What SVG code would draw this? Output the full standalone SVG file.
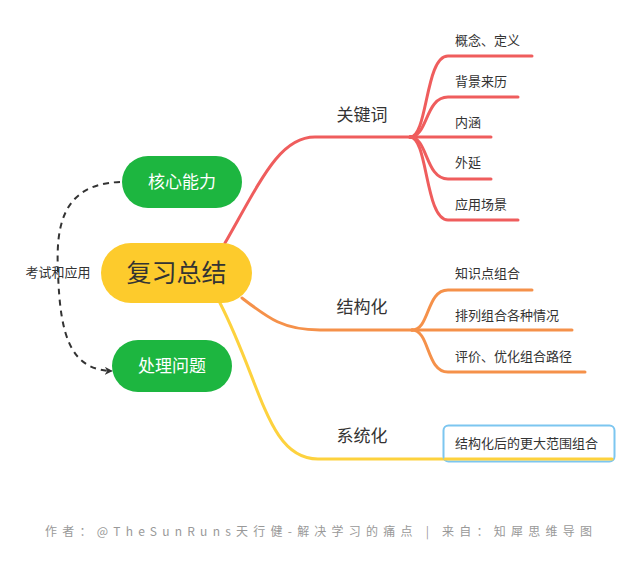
<svg xmlns="http://www.w3.org/2000/svg" width="640" height="561" viewBox="0 0 640 561">
<defs>
<style>
.t{font-family:"Noto Sans CJK SC","Noto Sans",sans-serif;fill:#333}
.sub{font-size:13px}
.main{font-size:17px}
.br{fill:none;stroke-width:3;stroke-linecap:round}
.red{stroke:#EF5D5D}
.org{stroke:#F5914A}
.yel{stroke:#FDD23E}
.green{fill:#1DB640}
</style>
<marker id="arr" viewBox="0 0 10 10" refX="9" refY="5" markerWidth="8" markerHeight="8" orient="auto" markerUnits="userSpaceOnUse">
<path d="M0,0 L10,5 L0,10 L3,5 Z" fill="#333"/>
</marker>
</defs>
<rect width="640" height="561" fill="#fff"/>
<g id="connectors">
<path class="br red" d="M225,243 C262,178 280,137 315,137 L410,137"/>
<path class="br red" d="M410,137 C428,137 425,56 448,56 L532,56"/>
<path class="br red" d="M410,137 C428,137 425,97 448,97 L518,97"/>
<path class="br red" d="M410,137 L491,137"/>
<path class="br red" d="M410,137 C428,137 425,179 448,179 L491,179"/>
<path class="br red" d="M410,137 C428,137 425,220 448,220 L518,220"/>
<path class="br org" d="M242,298 C268,318 283,330 320,330 L412,330"/>
<path class="br org" d="M412,330 C430,330 426,290 448,290 L532,290"/>
<path class="br org" d="M412,330 L572,330"/>
<path class="br org" d="M412,330 C430,330 426,372 448,372 L585,372"/>
<path class="br yel" d="M220,303 C262,385 268,459 318,459 L612,459"/>
<path d="M120,182 C60,184 56,230 58,272 C60,335 70,370 112,371" fill="none" stroke="#333" stroke-width="2" stroke-dasharray="6,5" marker-end="url(#arr)"/>
<text class="t" x="58" y="277" font-size="13" text-anchor="middle">考试和应用</text>
</g>
<g id="center">
<rect x="101" y="243" width="151" height="60" rx="30" fill="#FDCB2C"/>
<text class="t" x="176.5" y="282" font-size="25" text-anchor="middle" fill="#222">复习总结</text>
</g>
<g id="hexin">
<rect x="122" y="156" width="120" height="52" rx="26" class="green"/>
<text x="182" y="188" font-size="17" text-anchor="middle" fill="#fff" font-family="Noto Sans CJK SC,sans-serif">核心能力</text>
</g>
<g id="chuli">
<rect x="112" y="340" width="120" height="52" rx="26" class="green"/>
<text x="172" y="372" font-size="17" text-anchor="middle" fill="#fff" font-family="Noto Sans CJK SC,sans-serif">处理问题</text>
</g>
<g id="guanjianci"><text class="t main" x="362" y="121" text-anchor="middle">关键词</text></g>
<g id="jiegouhua"><text class="t main" x="362" y="313" text-anchor="middle">结构化</text></g>
<g id="xitonghua"><text class="t main" x="362" y="442" text-anchor="middle">系统化</text></g>
<g id="k1"><text class="t sub" x="455" y="45">概念、定义</text></g>
<g id="k2"><text class="t sub" x="455" y="86">背景来历</text></g>
<g id="k3"><text class="t sub" x="455" y="127">内涵</text></g>
<g id="k4"><text class="t sub" x="455" y="167">外延</text></g>
<g id="k5"><text class="t sub" x="455" y="209">应用场景</text></g>
<g id="s1"><text class="t sub" x="455" y="278">知识点组合</text></g>
<g id="s2"><text class="t sub" x="455" y="320">排列组合各种情况</text></g>
<g id="s3"><text class="t sub" x="455" y="361">评价、优化组合路径</text></g>
<g id="x1">
<rect x="443.5" y="425.5" width="171" height="36" rx="5" fill="#fff" stroke="#7CC6F0" stroke-width="2"/>
<path class="br yel" d="M445,459 L612,459"/>
<text class="t sub" x="455" y="448">结构化后的更大范围组合</text>
</g>
<text x="45" y="536" font-size="12" fill="#999" textLength="547" lengthAdjust="spacing" font-family="Noto Sans CJK SC,sans-serif">作者：@TheSunRuns天行健-解决学习的痛点  |  来自：知犀思维导图</text>
</svg>
